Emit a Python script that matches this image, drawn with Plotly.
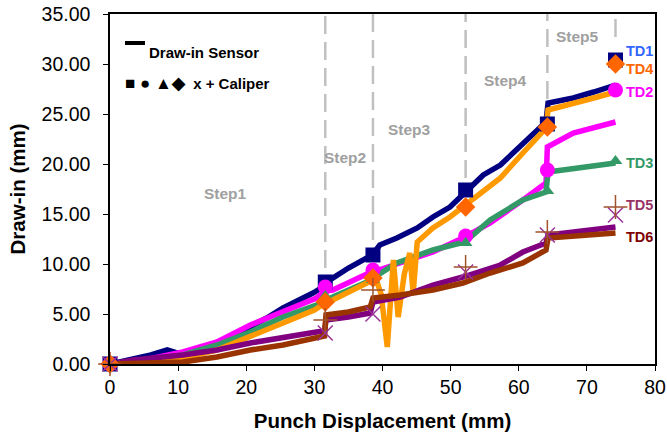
import plotly.graph_objects as go

# ---------------- data ----------------
td1_x = [0, 3, 6, 8.4, 10.3, 13, 15.7, 18, 20.6, 23, 25.4, 28, 29.8, 31.0, 31.6, 32.7, 35, 37.7, 38.6,
         39.6, 42.1, 45.1, 47.4, 49.9, 52.4, 54.8, 57.3, 60.6, 64.0, 64.3, 68, 71, 74.2]
td1_y = [0, 0.4, 0.9, 1.4, 1.0, 1.5, 2.1, 2.8, 3.7, 4.6, 5.6, 6.4, 7.1, 7.6, 8.2, 8.6, 9.6, 10.6, 11.0,
         11.9, 12.6, 13.6, 14.7, 15.7, 17.4, 18.9, 19.9, 22.1, 24.2, 26.1, 26.6, 27.2, 27.9]

td2_x = [0, 5, 10.7, 15.7, 20.6, 25.4, 30.3, 31.6, 32.7, 37.7, 38.6, 42.1, 47.4, 52.1, 55.8, 60.6,
         64.0, 64.2, 68.0, 74.2]
td2_y = [0, 0.4, 1.2, 2.2, 3.9, 5.2, 6.6, 7.3, 7.4, 9.0, 9.2, 10.1, 11.2, 12.7, 14.1, 16.4,
         18.1, 21.7, 23.1, 24.2]

td3_x = [0, 5, 10.7, 15.7, 20.6, 25.4, 30.3, 32.7, 37.7, 42.1, 47.4, 52.1, 55.8, 60.6, 64.0, 64.3, 74.2]
td3_y = [0, 0.4, 0.9, 1.9, 3.2, 4.7, 5.9, 6.7, 8.2, 10.1, 11.4, 12.2, 14.4, 16.4, 17.2, 19.2, 20.1]

td4_x = [0, 5, 10.7, 15.7, 20.6, 25.4, 30.0, 31.6, 32.7, 35, 37.7, 39.1, 39.8, 40.7, 41.6, 42.3,
         43.2, 44.0, 44.5, 45.1, 47.4, 49.9, 51.8, 54.8, 57.3, 60.6, 64.0, 64.3, 68, 71, 74.2]
td4_y = [0, 0.3, 0.6, 1.4, 2.7, 4.1, 5.4, 6.1, 6.4, 7.2, 8.1, 8.4, 7.0, 1.7, 10.4, 4.7,
         9.0, 11.1, 7.1, 12.2, 13.6, 14.7, 15.7, 17.4, 18.6, 21.1, 23.6, 25.4, 26.0, 26.6, 27.2]

td5_x = [0, 3.4, 10.7, 15.7, 20.6, 25.4, 30.3, 31.5, 31.7, 35, 38.2, 38.6, 42.6, 47.4, 51.8, 57.3,
         60.6, 64.0, 64.3, 74.2]
td5_y = [0, 0.4, 0.9, 1.4, 2.1, 2.7, 3.2, 3.3, 4.4, 4.7, 5.1, 6.2, 6.7, 7.9, 8.7, 9.9,
         11.2, 12.1, 12.9, 13.7]

td6_x = [0, 3.4, 10.7, 15.7, 20.6, 25.4, 30.3, 31.5, 31.7, 35, 38.2, 38.6, 42.6, 47.4, 51.8, 55.8,
         60.6, 64.0, 64.3, 74.2]
td6_y = [0, 0.1, 0.2, 0.7, 1.4, 1.9, 2.6, 2.8, 4.9, 5.2, 5.7, 6.6, 6.9, 7.4, 8.1, 9.1,
         10.1, 11.4, 12.6, 13.1]

# caliper measurements
caliper_x = [0, 31.6, 38.6, 52.2, 64.2, 74.2]
cal_td1 = [0, 8.2, 10.9, 17.4, 24.0, 30.4]
cal_td2 = [0, 7.7, 9.4, 12.8, 19.4, 27.4]
cal_td3 = [0, 6.8, 8.4, 12.1, 17.3, 20.3]
cal_td4 = [0, 6.2, 8.6, 15.7, 23.7, 30.0]
cal_td5 = [0, 3.1, 5.0, 9.2, 12.9, 14.9]
cal_td6 = [0, 4.4, 7.4, 9.7, 13.2, 15.7]

# process steps
step_x = [31.6, 38.6, 52.2, 64.2, 74.2]
step_line_bottom = [9.6, 12.4, 18.6, 26.5, 32.7]
step_labels = ["Step1", "Step2", "Step3", "Step4", "Step5"]
step_label_x = [16.9, 34.5, 44.0, 58.0, 68.6]
step_label_y = [17.1, 20.7, 23.5, 28.4, 32.8]

# series labels at the right end
td_labels = ["TD1", "TD4", "TD2", "TD3", "TD5", "TD6"]
td_label_y = [31.3, 29.5, 27.2, 20.1, 15.9, 12.7]
td_label_colors = ["#3366FF", "#FF6600", "#FF00FF", "#339966", "#993366", "#800000"]

FONT = "Liberation Sans, Arial, sans-serif"

fig = go.Figure()

line_series = [
    (td1_x, td1_y, "#000080"),
    (td2_x, td2_y, "#FF00FF"),
    (td3_x, td3_y, "#339966"),
    (td4_x, td4_y, "#FF9900"),
    (td5_x, td5_y, "#800080"),
    (td6_x, td6_y, "#993300"),
]
for xs, ys, c in line_series:
    fig.add_trace(go.Scatter(x=xs, y=ys, mode="lines",
                             line=dict(color=c, width=5.5), showlegend=False,
                             hoverinfo="skip"))

marker_series = [
    (cal_td1, "square", "#000080", 15, None),
    (cal_td2, "circle", "#FF00FF", 15, None),
    (cal_td3, "triangle-up", "#339966", 12, None),
    (cal_td4, "diamond", "#FF6600", 15, None),
    (cal_td5, "x-thin", "#993399", 15, 1.5),
    (cal_td6, "cross-thin", "#A0522D", 17, 1.5),
]
for ys, sym, c, sz, lw in marker_series:
    mk = dict(symbol=sym, color=c, size=sz)
    if lw is not None:
        mk["line"] = dict(color=c, width=lw)
    else:
        mk["line"] = dict(width=0)
    fig.add_trace(go.Scatter(x=caliper_x, y=ys, mode="markers", marker=mk,
                             cliponaxis=False, showlegend=False, hoverinfo="skip"))

# dashed step lines
for sx, sb in zip(step_x, step_line_bottom):
    fig.add_shape(type="line", x0=sx, x1=sx, y0=sb, y1=35, xref="x", yref="y",
                  line=dict(color="#C0C0C0", width=2.5, dash="18px,8px"), layer="below")

annotations = []
for t, x, y in zip(step_labels, step_label_x, step_label_y):
    annotations.append(dict(x=x, y=y, xref="x", yref="y", text="<b>%s</b>" % t,
                            showarrow=False, font=dict(family=FONT, size=15.5, color="#A0A0A0")))

for t, y, c in zip(td_labels, td_label_y, td_label_colors):
    annotations.append(dict(x=75.4, y=y, xref="x", yref="y", text="<b>%s</b>" % t,
                            xanchor="left", showarrow=False,
                            font=dict(family=FONT, size=14.5, color=c)))

# legend-like text
annotations.append(dict(x=(147 - 110) / 545, y=(364 - 42) / 350, xref="paper", yref="paper",
                        text="<b>Draw-in Sensor</b>", xanchor="left", showarrow=False,
                        font=dict(family=FONT, size=15, color="black")))
annotations.append(dict(x=(123 - 110) / 545, y=(364 - 72) / 350, xref="paper", yref="paper",
                        text="<b><span style='font-size:17px'>■ ● ▲◆</span>&nbsp;&nbsp;x + Caliper</b>",
                        xanchor="left", showarrow=False,
                        font=dict(family=FONT, size=15, color="black")))
fig.add_shape(type="line", xref="paper", yref="paper",
              x0=(125 - 110) / 545, x1=(145 - 110) / 545,
              y0=(364 - 43) / 350, y1=(364 - 43) / 350,
              line=dict(color="black", width=4))

fig.update_layout(
    width=667, height=434,
    margin=dict(l=110, r=12, t=14, b=70, autoexpand=False),
    paper_bgcolor="white", plot_bgcolor="white",
    annotations=annotations,
    font=dict(family=FONT, color="black"),
)
fig.update_xaxes(range=[0, 80], dtick=10, tick0=0, showgrid=False, zeroline=False,
                 automargin=False,
                 showline=True, linecolor="black", linewidth=1.5, mirror=True,
                 ticks="outside", ticklen=5, tickcolor="black", tickwidth=1,
                 tickfont=dict(family=FONT, size=19.5, color="black"),
                 title=dict(text="<b>Punch Displacement (mm)</b>", standoff=16,
                            font=dict(family=FONT, size=20.5, color="black")))
fig.update_yaxes(range=[0, 35], dtick=5, tick0=0, tickformat=".2f", showgrid=False, zeroline=False,
                 automargin=False,
                 showline=True, linecolor="black", linewidth=1.5, mirror=True,
                 ticks="outside", ticklen=5, tickcolor="black", tickwidth=1,
                 ticklabelstandoff=9,
                 tickfont=dict(family=FONT, size=19.5, color="black"),
                 title=dict(text="<b>Draw-in (mm)</b>", standoff=10,
                            font=dict(family=FONT, size=20.5, color="black")))

fig.write_html("out.html")
